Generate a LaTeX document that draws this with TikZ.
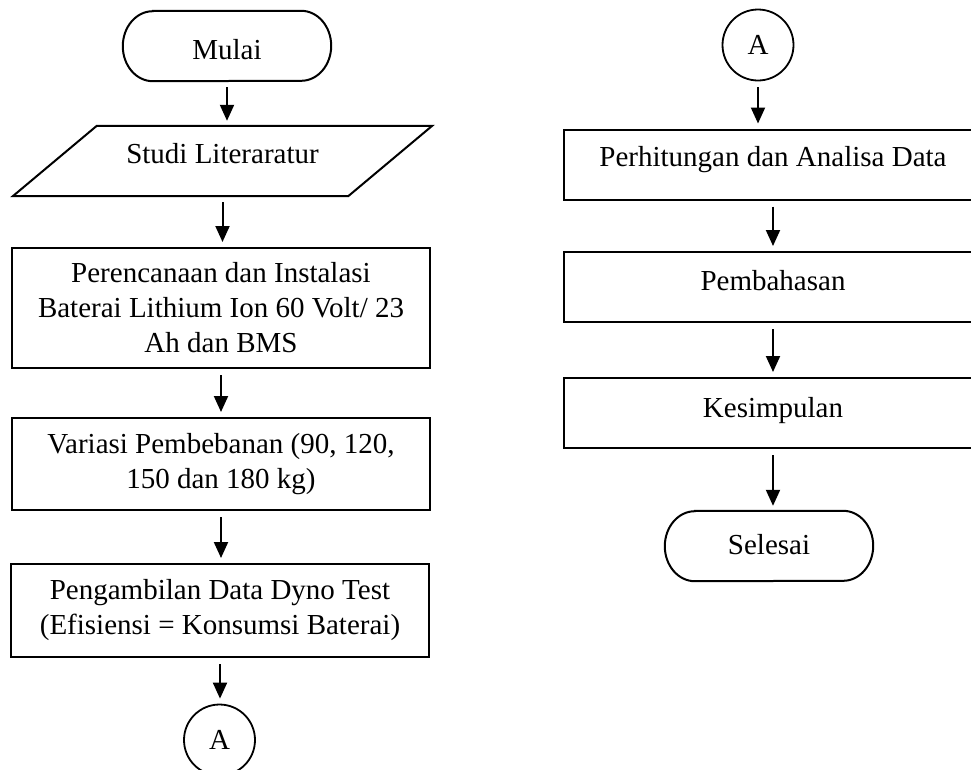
\documentclass[tikz,border=0pt]{standalone}
\usepackage{fontspec}
\setmainfont{Liberation Serif}
\usetikzlibrary{arrows.meta}
\begin{document}
\begin{tikzpicture}[x=1pt,y=-1pt,
  every node/.style={font=\fontsize{29pt}{35pt}\selectfont},
  line/.style={line width=2pt},
  proc/.style={draw, line width=2pt, minimum width=418pt, align=center, inner sep=0pt},
  conn/.style={draw, circle, line width=1.8pt, minimum size=71pt, inner sep=0pt},
  term/.style={minimum width=208pt, minimum height=70pt, inner sep=0pt},
  arr/.style={line width=2pt, -{Triangle[length=16pt,width=14pt]}, shorten <=6pt, shorten >=5pt}]
\clip (0,0) rectangle (971,769);
% left column
\node[term, text height=26pt, text depth=0pt] (mulai) at (227,46) {Mulai};
\draw[line] ([xshift=30pt]mulai.north west) -- ([xshift=-30pt]mulai.north east)
  arc[start angle=90,end angle=-90,x radius=30pt,y radius=35pt]
  -- ([xshift=30pt]mulai.south west)
  arc[start angle=270,end angle=90,x radius=30pt,y radius=35pt] -- cycle;
\node[minimum width=419pt, minimum height=70pt, inner sep=0pt, text height=20pt, text depth=16pt] (studi) at (222.5,161) {Studi Literaratur};
\draw[line] ([xshift=84pt]studi.north west) -- (studi.north east) -- ([xshift=-84pt]studi.south east) -- (studi.south west) -- cycle;
\node[proc, minimum height=120pt] (b1) at (221,308) {Perencanaan dan Instalasi\\Baterai Lithium Ion 60 Volt/ 23\\Ah dan BMS};
\node[proc, minimum height=92pt] (b2) at (221,464) {Variasi Pembebanan (90, 120,\\150 dan 180 kg)};
\node[proc, minimum height=93pt] (b3) at (220,610.5) {Pengambilan Data Dyno Test\\(Efisiensi = Konsumsi Baterai)};
\node[conn] (a1) at (219.5,740) {A};
% right column
\node[conn] (a2) at (758,45) {A};
\node[proc, minimum height=70pt, text height=20pt, text depth=17pt] (b4) at (773,164.5) {Perhitungan dan Analisa Data};
\node[proc, minimum height=70pt, text height=20pt, text depth=14pt] (b5) at (773,287) {Pembahasan};
\node[proc, minimum height=70pt, text height=20pt, text depth=12pt] (b6) at (773,413) {Kesimpulan};
\node[term, text height=20pt, text depth=4pt] (sel) at (769,546) {Selesai};
\draw[line] ([xshift=30pt]sel.north west) -- ([xshift=-30pt]sel.north east)
  arc[start angle=90,end angle=-90,x radius=30pt,y radius=35pt]
  -- ([xshift=30pt]sel.south west)
  arc[start angle=270,end angle=90,x radius=30pt,y radius=35pt] -- cycle;
% connectors
\draw[arr] (mulai.south) -- (mulai.south |- studi.north);
\draw[arr] (studi.south) -- (studi.south |- b1.north);
\draw[arr] (b1.south) -- (b1.south |- b2.north);
\draw[arr] (b2.south) -- (b2.south |- b3.north);
\draw[arr] (b3.south) -- (b3.south |- a1.north);
\draw[arr] (a2.south) -- (a2.south |- b4.north);
\draw[arr] (b4.south) -- (b4.south |- b5.north);
\draw[arr] (b5.south) -- (b5.south |- b6.north);
\draw[arr] (b6.south) -- (b6.south |- sel.north);
\end{tikzpicture}
\end{document}
